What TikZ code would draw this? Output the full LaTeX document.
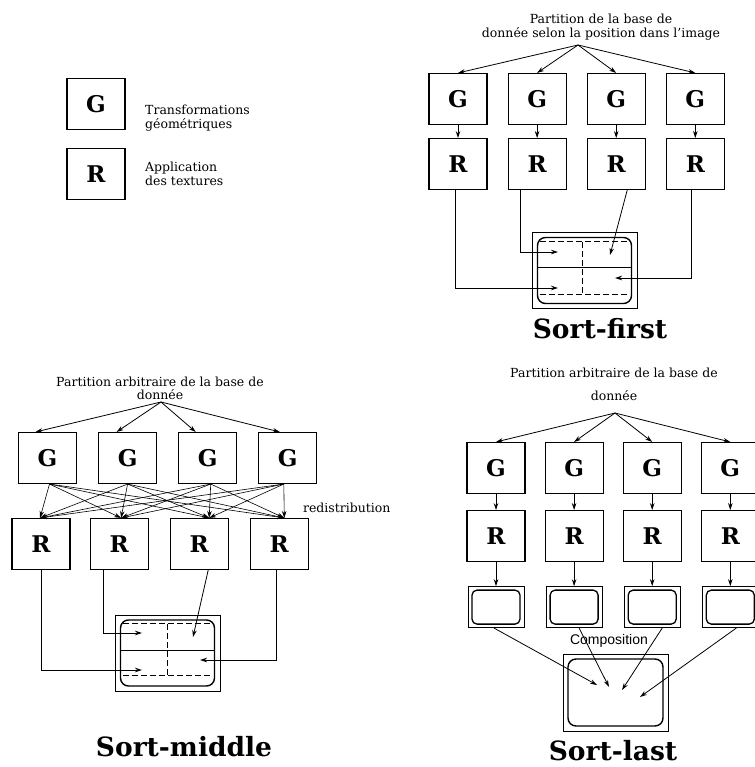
\documentclass[tikz,border=0pt]{standalone}
\usepackage{fontspec}
\setmainfont{DejaVu Serif}
\newfontfamily\compfont{Liberation Sans}
\usetikzlibrary{arrows.meta,positioning}

\begin{document}
\begin{tikzpicture}[x=1pt,y=-1pt,
   node distance=13pt and 20pt,
   unit/.style={draw,line width=1.1pt,minimum width=58pt,minimum height=51pt,
                inner sep=0pt,font=\fontsize{23}{23}\selectfont\bfseries},
   lbl/.style={font=\fontsize{12.5}{13.5}\selectfont,align=center,inner sep=0pt},
   ttl/.style={font=\fontsize{26.5}{26.5}\selectfont\bfseries,inner sep=0pt,anchor=base},
   outscr/.style={draw,line width=0.9pt,minimum width=105pt,minimum height=76pt,inner sep=0pt},
   inscr/.style={draw,line width=1.4pt,rounded corners=8pt,minimum width=94pt,
                 minimum height=66pt,inner sep=0pt},
   tile/.style={draw,line width=0.9pt,minimum width=56pt,minimum height=41pt,inner sep=0pt},
   tilein/.style={draw,line width=1.3pt,rounded corners=5pt,minimum width=48pt,
                  minimum height=34pt,inner sep=0pt},
   split/.style={line width=1.2pt,dash pattern=on 6pt off 3pt},
   ar/.style={-{Stealth[length=7pt,width=4.5pt]},line width=0.8pt}]
  \useasboundingbox (0,0) rectangle (754,767);

  \node[unit] (kG) at (96,104) {G};
  \node[unit] (kR) at (96,174) {R};
  \node[lbl,align=left,anchor=west] (kGt) at (145,118) {Transformations\\géométriques};
  \node[lbl,align=left,anchor=west] (kRt) at (145,174) {Application\\des textures};

  \node[lbl] (fH) at (601,27) {Partition de la base de\\donnée selon la position dans l'image};
  \coordinate (fF) at (578,45);
  \node[unit] (fG1) at (458,99) {G};
  \node[unit,right=of fG1] (fG2) {G};
  \node[unit,right=of fG2] (fG3) {G};
  \node[unit,right=of fG3] (fG4) {G};
  \foreach \i in {1,...,4} {
    \node[unit,below=of fG\i] (fR\i) {R};
    \draw[ar] (fF) -- (fG\i.north);
    \draw[ar] (fG\i) -- (fR\i);
  }
  \node[outscr] (fS) at (584.5,270.5) {};
  \node[inscr] (fSi) at (fS) {};
  \draw[split] ([xshift=3pt,yshift=-5pt]fSi.north west) -- ([xshift=-3pt,yshift=-5pt]fSi.north east);
  \draw[split] ([xshift=3pt,yshift=10pt]fSi.south west) -- ([xshift=-3pt,yshift=10pt]fSi.south east);
  \draw[split] ([xshift=-2pt,yshift=-5pt]fSi.north) -- ([xshift=-2pt,yshift=10pt]fSi.south);
  \draw[line width=1pt] ([yshift=3pt]fSi.west) -- ([yshift=3pt]fSi.east);
  \coordinate (fq1) at (558,288);
  \coordinate (fq2) at (558,252);
  \coordinate (fq3) at (610,255);
  \coordinate (fq4) at (615,278);
  \draw[ar] ([xshift=-3pt]fR1.south) |- (fq1);
  \draw[ar] ([xshift=-17pt]fR2.south) |- (fq2);
  \draw[ar] ([xshift=11pt]fR3.south) -- (fq3);
  \draw[ar] ([xshift=-4pt]fR4.south) |- (fq4);
  \node[ttl] (fT) at (600,338) {Sort-first};

  \node[lbl] (mH) at (160,388.5) {Partition arbitraire de la base de\\donnée};
  \coordinate (mF) at (161,402);
  \node[unit] (mG1) at (47.5,458) {G};
  \node[unit,right=21pt of mG1] (mG2) {G};
  \node[unit,right=21pt of mG2] (mG3) {G};
  \node[unit,right=21pt of mG3] (mG4) {G};
  \node[unit] (mR1) at (41,544) {R};
  \node[unit,right=19pt of mR1] (mR2) {R};
  \node[unit,right=21pt of mR2] (mR3) {R};
  \node[unit,right=21pt of mR3] (mR4) {R};
  \foreach \i/\dx in {1/-12,2/-11,3/-12,4/-8}
    \draw[ar] (mF) -- ([xshift=\dx pt]mG\i.north);
  \foreach \i/\gx in {1/2,2/0,3/3,4/-4}
    \foreach \j/\rx in {1/-1,2/2,3/10,4/5}
      \draw[ar,line width=0.6pt] ([xshift=\gx pt]mG\i.south) -- ([xshift=\rx pt]mR\j.north);
  \node[lbl,anchor=west] (mD) at ([xshift=-6pt,yshift=10pt]mR4.north east) {redistribution};
  \node[outscr] (mS) at (167.5,653) {};
  \node[inscr] (mSi) at (mS) {};
  \draw[split] ([xshift=3pt,yshift=-4.5pt]mSi.north west) -- ([xshift=-3pt,yshift=-4.5pt]mSi.north east);
  \draw[split] ([xshift=3pt,yshift=11pt]mSi.south west) -- ([xshift=-3pt,yshift=11pt]mSi.south east);
  \draw[split] ([yshift=-4.5pt]mSi.north) -- ([yshift=11pt]mSi.south);
  \draw[line width=1pt] ([yshift=2.5pt]mSi.west) -- ([yshift=2.5pt]mSi.east);
  \coordinate (mq1) at (142,670);
  \coordinate (mq2) at (142,633);
  \coordinate (mq3) at (193,637);
  \coordinate (mq4) at (200,660);
  \draw[ar] (mR1.south) |- (mq1);
  \draw[ar] ([xshift=-16pt]mR2.south) |- (mq2);
  \draw[ar] ([xshift=9pt]mR3.south) -- (mq3);
  \draw[ar] ([xshift=-3pt]mR4.south) |- (mq4);
  \node[ttl] (mT) at (184,756) {Sort-middle};

  \node[lbl] (lH) at (614,384.5) {Partition arbitraire de la base de\\[10pt]donnée};
  \coordinate (lF) at (615,413);
  \node[unit] (lG1) at (496,468) {G};
  \node[unit,right=19pt of lG1] (lG2) {G};
  \node[unit,right=19pt of lG2] (lG3) {G};
  \node[unit,right=19pt of lG3] (lG4) {G};
  \foreach \i in {1,...,4} {
    \node[unit,below=16pt of lG\i] (lR\i) {R};
    \node[tile,below=24pt of lR\i] (lS\i) {};
    \node[tilein] at (lS\i) {};
    \draw[ar] (lF) -- (lG\i.north);
    \draw[ar] (lG\i) -- (lR\i);
    \draw[ar] (lR\i) -- (lS\i);
  }
  \node[font=\compfont\fontsize{14}{14}\selectfont,inner sep=0pt] (lC) at (609,641) {Composition};
  \node[outscr,minimum height=77pt] (lS) at (615.5,692.5) {};
  \node[inscr,minimum width=95pt,minimum height=67pt] (lSi) at (lS) {};
  \coordinate (lc1) at (597,685);
  \coordinate (lc2) at (609,687);
  \coordinate (lc3) at (622,690);
  \coordinate (lc4) at (640,697);
  \draw[ar] ([xshift=-2pt]lS1.south) -- (lc1);
  \draw[ar] ([xshift=5pt]lS2.south) -- (lc2);
  \draw[ar] ([xshift=10pt]lS3.south) -- (lc3);
  \draw[ar] ([xshift=6pt]lS4.south) -- (lc4);
  \node[ttl] (lT) at (613,760) {Sort-last};
\end{tikzpicture}
\end{document}
